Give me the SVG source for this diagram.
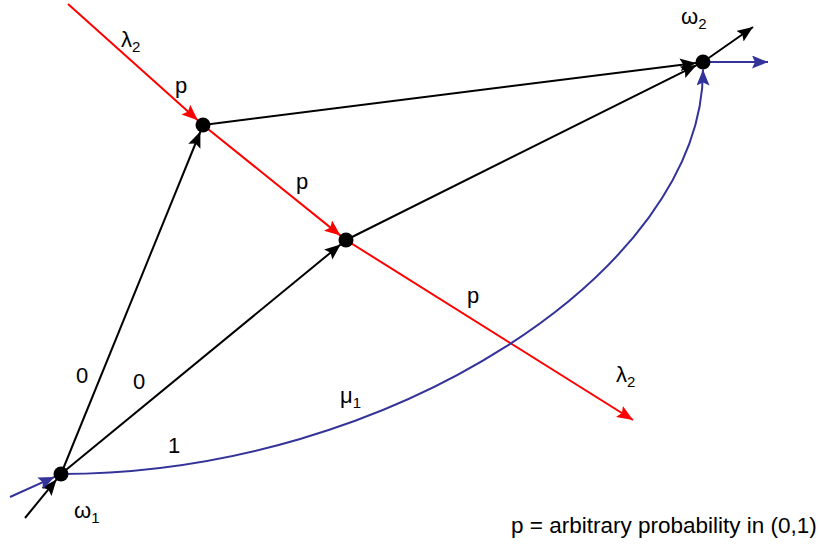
<svg xmlns="http://www.w3.org/2000/svg" width="819" height="544" viewBox="0 0 819 544">
<style>
text{font-family:"Liberation Sans",Arial,sans-serif;font-size:22px;fill:#000}
.sub{font-size:15px}
.k{stroke:#000;stroke-width:2;fill:none}
.r{stroke:#ff0000;stroke-width:2;fill:none}
.b{stroke:#333399;stroke-width:2;fill:none}
.node{fill:#000}
</style>
<defs>
<marker id="ak" markerUnits="userSpaceOnUse" markerWidth="18" markerHeight="14" refX="16" refY="6.5" orient="auto"><path d="M0,0 L16,6.5 L0,13 L3,6.5 z" fill="#000"/></marker>
<marker id="ar" markerUnits="userSpaceOnUse" markerWidth="18" markerHeight="14" refX="16" refY="6.5" orient="auto"><path d="M0,0 L16,6.5 L0,13 L3,6.5 z" fill="#ff0000"/></marker>
<marker id="ab" markerUnits="userSpaceOnUse" markerWidth="18" markerHeight="14" refX="16" refY="6.5" orient="auto"><path d="M0,0 L16,6.5 L0,13 L3,6.5 z" fill="#333399"/></marker>
</defs>
<g id="connectors">
<line class="r" x1="68" y1="4" x2="197.8" y2="120.3" marker-end="url(#ar)"/>
<line class="r" x1="203" y1="125" x2="340.5" y2="235.6" marker-end="url(#ar)"/>
<line class="r" x1="346" y1="240" x2="633" y2="420" marker-end="url(#ar)"/>
<line class="k" x1="61" y1="474" x2="200.4" y2="131.5" marker-end="url(#ak)"/>
<line class="k" x1="61" y1="474" x2="340.6" y2="244.4" marker-end="url(#ak)"/>
<line class="k" x1="203" y1="125" x2="696.1" y2="62.9" marker-end="url(#ak)"/>
<line class="k" x1="346" y1="240" x2="696.7" y2="65.1" marker-end="url(#ak)"/>
<line class="k" x1="703" y1="62" x2="753" y2="27" marker-end="url(#ak)"/>
<line class="k" x1="25" y1="518" x2="56.6" y2="479.4" marker-end="url(#ak)"/>
<line class="b" x1="10" y1="497" x2="54.6" y2="476.9" marker-end="url(#ab)"/>
<line class="b" x1="703" y1="62" x2="768" y2="62" marker-end="url(#ab)"/>
<path class="b" d="M61,474 C390,474 703,270 703,69.5" marker-end="url(#ab)"/>
</g>
<g id="omega1"><circle class="node" cx="61" cy="474" r="7.5"/></g>
<g id="n2"><circle class="node" cx="203" cy="125" r="7.5"/></g>
<g id="n3"><circle class="node" cx="346" cy="240" r="7.5"/></g>
<g id="omega2"><circle class="node" cx="703" cy="62" r="7.5"/></g>
<g id="labels">
<text x="121" y="47">λ<tspan class="sub" dy="5">2</tspan></text>
<text x="175" y="93">p</text>
<text x="296" y="189">p</text>
<text x="467" y="303">p</text>
<text x="616" y="382">λ<tspan class="sub" dy="5">2</tspan></text>
<text x="340" y="403">μ<tspan class="sub" dy="5">1</tspan></text>
<text x="76" y="383">0</text>
<text x="133" y="389">0</text>
<text x="168" y="453">1</text>
<text x="74" y="518">ω<tspan class="sub" dy="5">1</tspan></text>
<text x="681" y="24">ω<tspan class="sub" dy="5">2</tspan></text>
<text x="511" y="533" style="font-size:22.5px">p = arbitrary probability in (0,1)</text>
</g>
</svg>
